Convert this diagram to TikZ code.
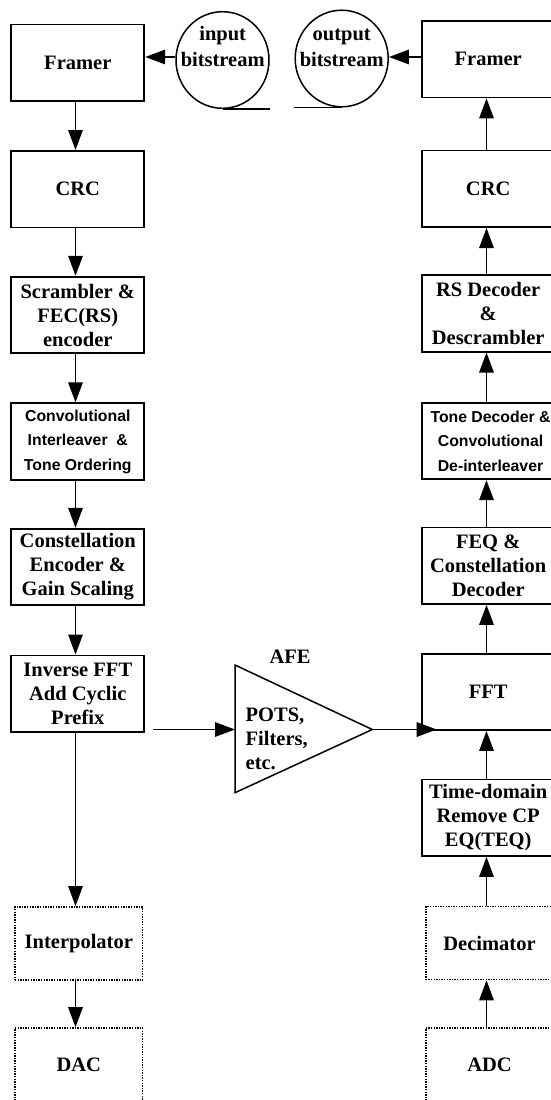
\documentclass[tikz,border=0pt]{standalone}
\usepackage{fontspec}
\setmainfont{Liberation Serif}
\newfontfamily\myarial{Liberation Sans}
\usetikzlibrary{arrows.meta,shapes.geometric}
\newcommand\myserif{\fontsize{20.5}{24}\selectfont\bfseries}
\newcommand\myserifc{\fontsize{20.5}{26}\selectfont\bfseries}
\newcommand\mysans{\myarial\fontsize{15.8}{24.5}\selectfont\bfseries}
\begin{document}
\begin{tikzpicture}[x=1pt,y=-1pt,
  box/.style={draw, line width=1.8pt, minimum width=133pt, minimum height=76.6pt,
              inner sep=0pt, align=center, font=\myserif},
  sbox/.style={box, font=\mysans},
  dbox/.style={draw, line width=1.6pt, dash pattern=on 1.4pt off 1.2pt,
               minimum width=127.5pt, minimum height=73pt, inner sep=0pt,
               align=center, font=\myserif},
  arr/.style={line width=1.5pt, -{Triangle[length=20pt,width=14.5pt]}},
  ell/.style={draw, ellipse, line width=1.5pt, minimum width=93pt,
              minimum height=96.6pt, inner sep=0pt},
  txt/.style={font=\myserif, align=center, inner sep=0pt}
]
\useasboundingbox (0,0) rectangle (551,1100);
\clip (0,0) rectangle (551,1100);

% helper coordinates for arrow columns
\coordinate (lx) at (75.5,0);
\coordinate (rx) at (486.5,0);
\coordinate (y57) at (0,57);

% left column
\node[box]  (fL)    at (77.8,62.7)  {Framer};
\node[box]  (crcL)  at (77.8,189.2) {CRC};
\node[box]  (scrL)  at (77.8,315)   {Scrambler \&\\FEC(RS)\\encoder};
\node[sbox] (convL) at (77.8,441.5) {Convolutional\\Interleaver\ \ \&\\Tone Ordering};
\node[box]  (conL)  at (77.8,567)   {Constellation\\Encoder \&\\Gain Scaling};
\node[box]  (ifftL) at (77.8,693.7) {Inverse FFT\\Add Cyclic\\Prefix};
\node[dbox] (interp) at (78.8,943.3) {Interpolator};
\node[dbox, minimum height=74pt] (dac) at (78.8,1065) {DAC};

% right column
\node[box]  (fR)    at (488.2,59.2)  {Framer};
\node[box]  (crcR)  at (488.2,188.8) {CRC};
\node[box]  (rsR)   at (488.2,313.3) {RS Decoder\\\&\\Descrambler};
\node[box]  (toneR) at (488.2,441)   {};
\node[txt, font=\mysans] (toneT) at (490.5,441) {Tone Decoder \&\\Convolutional\\De-interleaver};
\node[box]  (feqR)  at (488.2,565.7) {FEQ \&\\Constellation\\Decoder};
\node[box, minimum height=75.7pt] (fftR) at (488.2,692.2) {FFT};
\node[box]  (tdR)   at (488.2,817.7) {Time-domain\\Remove CP\\EQ(TEQ)};
\node[dbox] (dec)   at (489.5,943)   {Decimator};
\node[dbox, minimum height=74pt] (adc) at (489.5,1065) {ADC};

% bitstream circles
\node[ell] (inC)  at (222.5,60)  {};
\node[txt, font=\myserifc] (inT) at (222.7,46) {input\\bitstream};
\node[ell] (outC) at (341.7,58.5) {};
\node[txt, font=\myserifc] (outT) at (341.7,48) {output\\bitstream};
\draw[line width=1.5pt] (inC.south) -- ++(47,0);
\draw[line width=1.5pt] (outC.south) -- ++(-47.5,0);

\draw[arr] (inC.west |- y57) -- (fL.east |- y57);
\draw[arr] (fR.west |- y57) -- (outC.east |- y57);

% left arrows
\draw[arr] (fL.south -| lx)    -- (crcL.north -| lx);
\draw[arr] (crcL.south -| lx)  -- (scrL.north -| lx);
\draw[arr] (scrL.south -| lx)  -- (convL.north -| lx);
\draw[arr] (convL.south -| lx) -- (conL.north -| lx);
\draw[arr] (conL.south -| lx)  -- (ifftL.north -| lx);
\draw[arr] (ifftL.south -| lx) -- (interp.north -| lx);
\draw[arr] (interp.south -| lx) -- (dac.north -| lx);

% right arrows
\draw[arr] (crcR.north -| rx)  -- (fR.south -| rx);
\draw[arr] (rsR.north -| rx)   -- (crcR.south -| rx);
\draw[arr] (toneR.north -| rx) -- (rsR.south -| rx);
\draw[arr] (feqR.north -| rx)  -- (toneR.south -| rx);
\draw[arr] (fftR.north -| rx)  -- (feqR.south -| rx);
\draw[arr] (tdR.north -| rx)   -- (fftR.south -| rx);
\draw[arr] (dec.north -| rx)   -- (tdR.south -| rx);
\draw[arr] (adc.north -| rx)   -- (dec.south -| rx);

% AFE
\coordinate (tA) at (235,665);
\coordinate (tB) at (372.3,729.5);
\coordinate (tC) at (235,792.7);
\draw[line width=1.5pt, line join=miter] (tA) -- (tB) -- (tC) -- cycle;
\node[txt] (afe) at (290,657) {AFE};
\node[txt, align=left, anchor=west] (pots) at (245.5,739) {POTS,\\Filters,\\etc.};
\coordinate (ifftOut) at (152.7,729.5);
\coordinate (fftIn) at (436.7,729.5);
\draw[arr] (ifftOut) -- (tA |- tB);
\draw[arr] (tB) -- (fftIn);
\end{tikzpicture}
\end{document}
